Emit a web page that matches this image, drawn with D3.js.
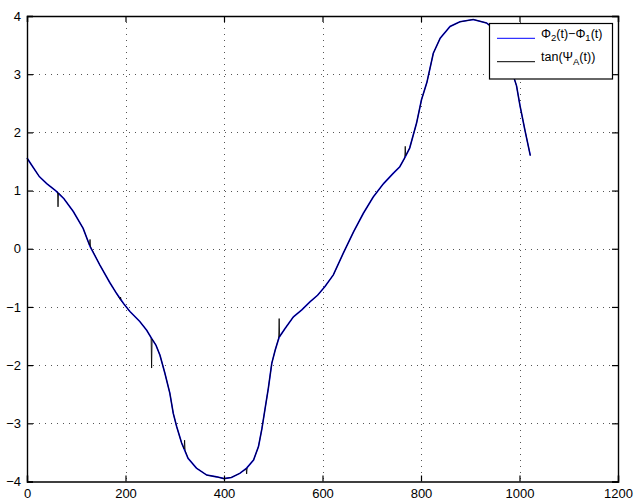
<!DOCTYPE html>
<html>
<head>
<meta charset="utf-8">
<script src="https://cdn.jsdelivr.net/npm/d3@7"></script>
<style>
  html, body { margin: 0; padding: 0; background: #fff; }
  svg { display: block; font-family: "Liberation Sans", Arial, Helvetica, sans-serif; }
</style>
</head>
<body>
<svg id="chart" width="635" height="502"></svg>
<script>
// Sample index t
const phaseT = [0, 10, 25, 40, 58, 75, 94, 114, 128, 148, 168, 182, 196, 209, 229, 243, 253, 262, 270, 280,
  290, 297, 304, 314, 327, 344, 365, 385, 400, 415, 432, 446, 460, 470, 477, 483, 490, 497, 504, 512,
  524, 541, 558, 575, 590, 605, 622, 642, 663, 683, 703, 724, 744, 757, 768, 777, 791, 801, 812, 825,
  839, 859, 879, 906, 933, 945, 958, 970, 982, 994, 1001, 1011, 1022];
// Phi_2(t) - Phi_1(t)
const phaseDiff = [1.56, 1.43, 1.24, 1.12, 1.00, 0.86, 0.64, 0.35, 0.04, -0.28, -0.58, -0.77, -0.94, -1.08, -1.25, -1.40, -1.54, -1.66, -1.83, -2.14,
  -2.48, -2.83, -3.06, -3.34, -3.60, -3.77, -3.89, -3.92, -3.95, -3.93, -3.86, -3.77, -3.63, -3.40, -3.09, -2.77, -2.40, -1.97, -1.74, -1.52,
  -1.37, -1.17, -1.05, -0.91, -0.80, -0.65, -0.45, -0.08, 0.29, 0.61, 0.89, 1.12, 1.30, 1.41, 1.58, 1.73, 2.16, 2.56, 2.86, 3.36,
  3.62, 3.82, 3.90, 3.94, 3.88, 3.80, 3.62, 3.40, 3.12, 2.80, 2.46, 2.04, 1.60];

// tan(Psi_A(t)): follows the phase difference, with short glitches
const tanT = [0, 10, 25, 40, 58, 62, 63, 64, 75, 94, 114, 127, 128, 129, 148, 168, 182, 189, 190, 191, 196, 209, 229, 243, 252, 253, 254, 262, 270, 280,
  290, 297, 304, 314, 319, 320, 321, 327, 344, 365, 385, 400, 415, 432, 445, 446, 447, 460, 470, 477, 483, 490, 497, 504, 511, 512, 513,
  524, 541, 558, 575, 590, 605, 622, 642, 663, 683, 703, 724, 744, 757, 767, 768, 769, 777, 791, 801, 812, 825,
  839, 859, 879, 906, 933, 945, 958, 970, 982, 994, 1001, 1011, 1022];
const tanPsiA = [1.56, 1.43, 1.24, 1.12, 1.00, 0.97, 0.72, 0.96, 0.86, 0.64, 0.35, 0.06, 0.16, 0.03, -0.28, -0.58, -0.77, -0.87, -0.83, -0.89, -0.94, -1.08, -1.25, -1.40, -1.53, -2.05, -1.55, -1.66, -1.83, -2.14,
  -2.48, -2.83, -3.06, -3.34, -3.44, -3.29, -3.47, -3.60, -3.77, -3.89, -3.92, -3.95, -3.93, -3.86, -3.78, -3.87, -3.76, -3.63, -3.40, -3.09, -2.77, -2.40, -1.97, -1.74, -1.54, -1.20, -1.51,
  -1.37, -1.17, -1.05, -0.91, -0.80, -0.65, -0.45, -0.08, 0.29, 0.61, 0.89, 1.12, 1.30, 1.41, 1.56, 1.76, 1.60, 1.73, 2.16, 2.56, 2.86, 3.36,
  3.62, 3.82, 3.90, 3.94, 3.88, 3.80, 3.62, 3.40, 3.12, 2.80, 2.46, 2.04, 1.60];

const xTicks = [0, 200, 400, 600, 800, 1000, 1200];
const yTicks = [-4, -3, -2, -1, 0, 1, 2, 3, 4];
// legend entries: [text, "sub" for subscript]
const legendLabels = [
  [["Φ", ""], ["2", "sub"], ["(t)−Φ", ""], ["1", "sub"], ["(t)", ""]],
  [["tan(Ψ", ""], ["A", "sub"], ["(t))", ""]]
];
const seriesColors = ["#0000ff", "#000000"];

const svg = d3.select("#chart");
const W = 635, H = 502;
const m = { left: 27, right: 17, top: 16, bottom: 20.5 };
const iw = W - m.left - m.right, ih = H - m.top - m.bottom;

const x = d3.scaleLinear().domain([0, 1200]).range([m.left, m.left + iw]);
const y = d3.scaleLinear().domain([-4, 4]).range([m.top + ih, m.top]);

const g = svg.append("g");

// dotted grid
const grid = g.append("g").attr("stroke", "#555").attr("stroke-width", 1)
  .attr("stroke-dasharray", "1,5").attr("shape-rendering", "crispEdges");
grid.selectAll("line.vx").data(xTicks.slice(1, -1)).join("line")
  .attr("x1", d => Math.round(x(d)) + 0.5).attr("x2", d => Math.round(x(d)) + 0.5)
  .attr("y1", y(4)).attr("y2", y(-4));
grid.selectAll("line.hy").data(yTicks.slice(1, -1)).join("line")
  .attr("x1", x(0)).attr("x2", x(1200))
  .attr("y1", d => Math.round(y(d)) + 0.5).attr("y2", d => Math.round(y(d)) + 0.5);

// series
const line = d3.line().x(d => x(d[0])).y(d => y(d[1]));
const phasePts = phaseT.map((t, i) => [t, phaseDiff[i]]);
const tanPts = tanT.map((t, i) => [t, tanPsiA[i]]);
g.append("path").datum(phasePts).attr("d", line)
  .attr("fill", "none").attr("stroke", seriesColors[0]).attr("stroke-width", 1.6);
g.append("path").datum(tanPts).attr("d", line)
  .attr("fill", "none").attr("stroke", seriesColors[1]).attr("stroke-width", 1).attr("stroke-opacity", 0.85);

// axes: inward ticks on all four sides
const tl = 6;
const fmt = d3.format("");
g.append("g").attr("transform", `translate(0,${y(-4)})`)
  .call(d3.axisBottom(x).tickValues(xTicks).tickSize(-tl).tickPadding(7.5).tickFormat(fmt));
g.append("g").attr("transform", `translate(0,${y(4)})`)
  .call(d3.axisTop(x).tickValues(xTicks).tickSize(-tl).tickFormat(""));
g.append("g").attr("transform", `translate(${x(0)},0)`)
  .call(d3.axisLeft(y).tickValues(yTicks).tickSize(-tl).tickPadding(6).tickFormat(fmt));
g.append("g").attr("transform", `translate(${x(1200)},0)`)
  .call(d3.axisRight(y).tickValues(yTicks).tickSize(-tl).tickFormat(""));
g.selectAll(".domain").attr("stroke", "#000").attr("stroke-width", 1.4);
g.selectAll(".tick line").attr("stroke", "#000").attr("stroke-width", 1.2);
g.selectAll(".tick text").attr("fill", "#000").attr("font-size", 13)
  .attr("font-family", "'Liberation Sans', Arial, Helvetica, sans-serif");

// legend
const lg = svg.append("g");
const lx = 489.5, ly = 23.5, lw = 123, lh = 55.5;
lg.append("rect").attr("x", lx).attr("y", ly).attr("width", lw).attr("height", lh)
  .attr("fill", "#fff").attr("stroke", "#000").attr("stroke-width", 1.2);
const rowY = [38.3, 61.7];
legendLabels.forEach((parts, i) => {
  lg.append("line").attr("x1", 497).attr("x2", 535).attr("y1", rowY[i]).attr("y2", rowY[i])
    .attr("stroke", seriesColors[i]).attr("stroke-width", 1);
  const t = lg.append("text").attr("x", 541).attr("y", rowY[i] - 0.5)
    .attr("font-size", 12.5).attr("fill", "#000");
  parts.forEach(([s, kind], k) => {
    const ts = t.append("tspan").text(s);
    if (kind === "sub") ts.attr("font-size", 9.5).attr("dy", 3.5);
    else if (k > 0) ts.attr("dy", -3.5);
  });
});
</script>
</body>
</html>
